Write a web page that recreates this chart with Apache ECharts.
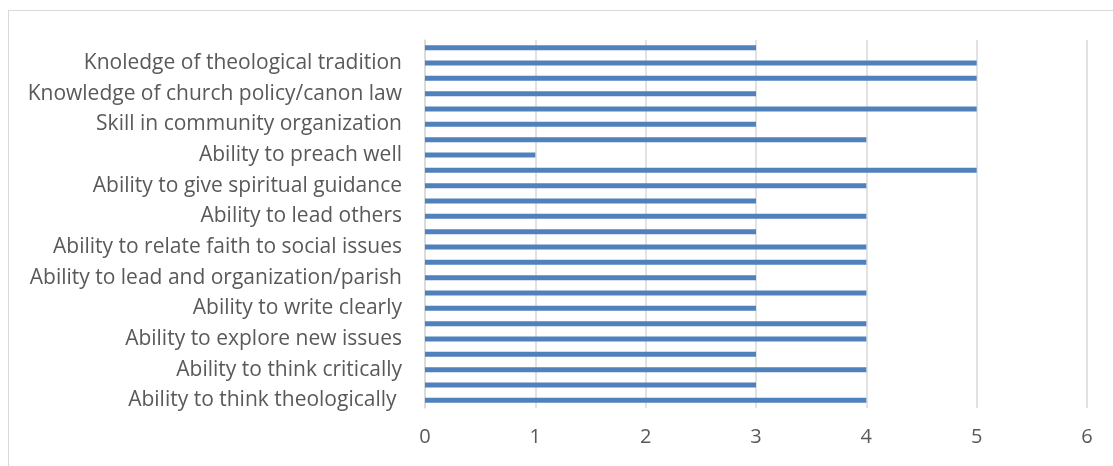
<!DOCTYPE html>
<html>
<head>
<meta charset="utf-8">
<script src="https://cdn.jsdelivr.net/npm/echarts@6/dist/echarts.min.js"></script>
<style>
html,body{margin:0;padding:0;background:#fff;}
#frame{position:absolute;left:8px;top:10px;width:1120px;height:470px;border:1px solid #d9d9d9;box-sizing:border-box;}
#chart{position:absolute;left:0;top:0;width:1113px;height:466px;}
</style>
</head>
<body>
<div id="frame"></div>
<div id="chart"></div>
<script>
// categories from bottom to top; unlabeled categories are blank in the source
const categories = [
  "Ability to think theologically ", "",
  "Ability to think critically", "",
  "Ability to explore new issues", "",
  "Ability to write clearly", "",
  "Ability to lead and organization/parish", "",
  "Ability to relate faith to social issues", "",
  "Ability to lead others", "",
  "Ability to give spiritual guidance", "",
  "Ability to preach well", "",
  "Skill in community organization", "",
  "Knowledge of church policy/canon law", "",
  "Knoledge of theological tradition", ""
];
const values = [4,3,4,3,4,4,3,4,3,4,4,3,4,3,4,5,1,4,3,5,3,5,5,3];
const xTicks = [0,1,2,3,4,5,6];

const chart = echarts.init(document.getElementById('chart'), null, {renderer:'canvas'});
chart.setOption({
  animation:false,
  grid:{left:425,right:26,top:40,bottom:58,containLabel:false},
  xAxis:{
    type:'value', min:xTicks[0], max:xTicks[xTicks.length-1], interval:1,
    axisLine:{show:false}, axisTick:{show:false},
    splitLine:{show:true,lineStyle:{color:'#d9d9d9',width:1.5}},
    axisLabel:{color:'#595959',fontFamily:'Open Sans',fontSize:20,margin:19}
  },
  yAxis:{
    type:'category', data:categories,
    axisLine:{show:true,lineStyle:{color:'#d9d9d9',width:1.5}},
    axisTick:{show:false},
    axisLabel:{color:'#595959',fontFamily:'Open Sans',fontSize:21,margin:23,interval:0,padding:[3,0,0,0]}
  },
  series:[{
    type:'bar', data:values, barWidth:5,
    itemStyle:{color:'#4f81bd'}
  }]
});
</script>
</body>
</html>
